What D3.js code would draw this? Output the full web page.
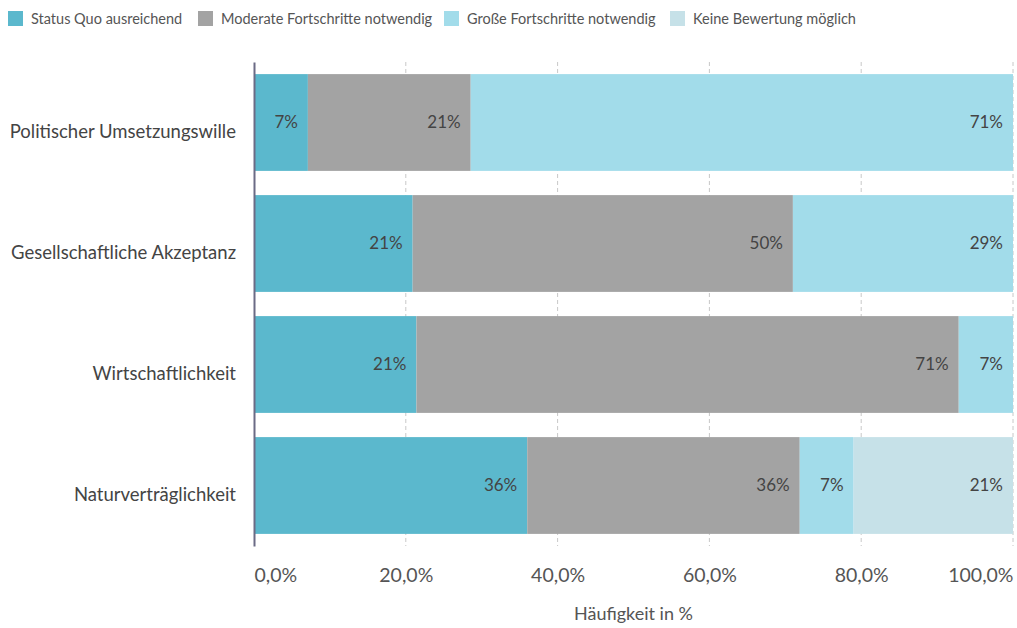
<!DOCTYPE html>
<html>
<head>
<meta charset="utf-8">
<script src="https://cdn.jsdelivr.net/npm/d3@7"></script>
<style>
  html, body { margin: 0; padding: 0; background: #fff; }
  svg { display: block; font-family: Lato, "Noto Sans", sans-serif; }
</style>
</head>
<body>
<svg id="chart" width="1017" height="628"></svg>
<script>
// Kategorien (Zeilen) und Antwortreihen in Prozent
const categories = [
  "Politischer Umsetzungswille",
  "Gesellschaftliche Akzeptanz",
  "Wirtschaftlichkeit",
  "Naturverträglichkeit"
];
const seriesNames = [
  "Status Quo ausreichend",
  "Moderate Fortschritte notwendig",
  "Große Fortschritte notwendig",
  "Keine Bewertung möglich"
];
const statusQuo   = [7.1, 20.9, 21.4, 36.0];
const moderate    = [21.45, 50.1, 71.45, 35.9];
const gross       = [71.45, 29.0, 7.15, 7.1];
const keineBewert = [0, 0, 0, 21.0];
const seriesColors = ["#5bb8cd", "#a3a3a3", "#a2dcea", "#c6e1e8"];
const xTicks = [0, 20, 40, 60, 80, 100];
const xTitle = "Häufigkeit in %";

const rows = categories.map((c, i) => ({
  category: c,
  [seriesNames[0]]: statusQuo[i],
  [seriesNames[1]]: moderate[i],
  [seriesNames[2]]: gross[i],
  [seriesNames[3]]: keineBewert[i]
}));

const svg = d3.select("#chart");
const margin = { left: 254, right: 4, top: 62, bottom: 82 };
const W = 1017, H = 628;

const x = d3.scaleLinear().domain([0, 100]).range([margin.left, W - margin.right]);
const y = d3.scaleBand().domain(categories)
  .range([margin.top, H - margin.bottom])
  .paddingInner(0.2).paddingOuter(0.1);

const textCol = "#444";

// Gitterlinien
svg.append("g")
  .selectAll("line")
  .data(xTicks.filter(t => t > 0))
  .join("line")
  .attr("x1", d => x(d)).attr("x2", d => x(d))
  .attr("y1", margin.top).attr("y2", H - margin.bottom)
  .attr("stroke", "#c8c8c8").attr("stroke-width", 1)
  .attr("stroke-dasharray", "4,3");

// Gestapelte Balken
const stack = d3.stack().keys(seriesNames)(rows);
const layers = svg.append("g").selectAll("g")
  .data(stack)
  .join("g")
  .attr("fill", (d, i) => seriesColors[i]);

layers.selectAll("rect")
  .data(d => d.filter(s => s[1] - s[0] > 0))
  .join("rect")
  .attr("x", d => x(d[0]))
  .attr("width", d => x(d[1]) - x(d[0]))
  .attr("y", d => y(d.data.category))
  .attr("height", y.bandwidth());

// Wertebeschriftungen am Segmentende
layers.selectAll("text")
  .data(d => d.filter(s => s[1] - s[0] > 0))
  .join("text")
  .attr("x", d => x(d[1]) - 10)
  .attr("y", d => y(d.data.category) + y.bandwidth() / 2)
  .attr("dy", "0.35em")
  .attr("text-anchor", "end")
  .attr("fill", textCol)
  .attr("font-size", 17)
  .text(d => Math.round(d[1] - d[0]) + "%");

// Kategorienachse
const yAxis = svg.append("g")
  .attr("transform", `translate(${margin.left},0)`)
  .call(d3.axisLeft(y).tickSize(0).tickPadding(18));
yAxis.select(".domain").attr("stroke", "#6b6b85").attr("stroke-width", 2);
yAxis.selectAll("text").attr("font-size", 18.5).attr("fill", textCol)
  .attr("font-family", "Lato, 'Noto Sans', sans-serif")
  .attr("dy", "0.85em");

// Wertachse
const fmt = d3.formatLocale({ decimal: ",", thousands: ".", grouping: [3], currency: ["", "€"] });
const xAxis = svg.append("g")
  .attr("transform", `translate(0,${H - margin.bottom})`)
  .call(d3.axisBottom(x).tickValues(xTicks).tickSize(0).tickPadding(22)
    .tickFormat(d => fmt.format(".1f")(d) + "%"));
xAxis.select(".domain").remove();
xAxis.selectAll("text").attr("font-size", 19.5).attr("fill", "#555")
  .attr("font-family", "Lato, 'Noto Sans', sans-serif")
  .attr("text-anchor", (d, i) => i === xTicks.length - 1 ? "end" : (i === 0 ? "start" : "middle"));

svg.append("text")
  .attr("x", (x(0) + x(100)) / 2)
  .attr("y", 620)
  .attr("text-anchor", "middle")
  .attr("fill", "#555")
  .attr("font-size", 18)
  .text(xTitle);

// Legende
const legendX = [8, 198, 444, 670];
const legend = svg.append("g").selectAll("g")
  .data(seriesNames)
  .join("g")
  .attr("transform", (d, i) => `translate(${legendX[i]},11)`);
legend.append("rect")
  .attr("width", 15).attr("height", 15)
  .attr("fill", (d, i) => seriesColors[i]);
legend.append("text")
  .attr("x", 23).attr("y", 7.5).attr("dy", "0.35em")
  .attr("font-size", 14.5).attr("fill", "#555")
  .text(d => d);
</script>
</body>
</html>
